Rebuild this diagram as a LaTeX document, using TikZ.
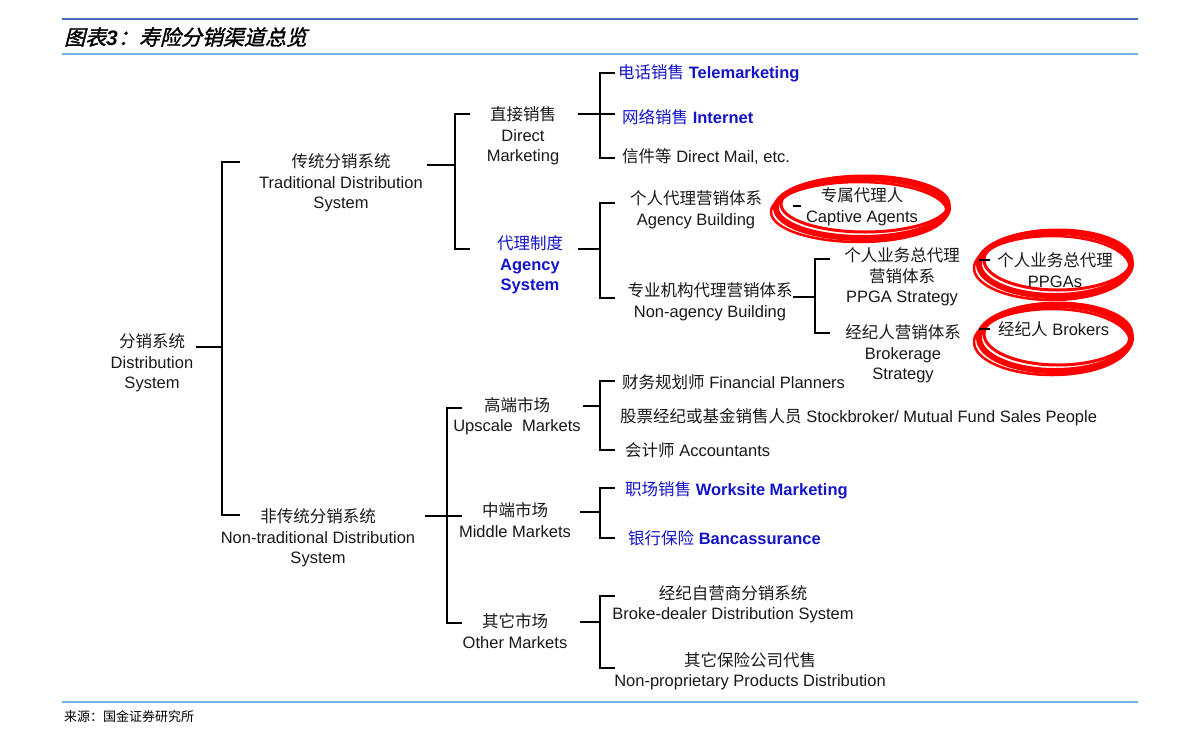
\documentclass[tikz,border=0pt]{standalone}
\usepackage{fontspec}
\setmainfont{Liberation Sans}
\newfontfamily\cjk{Noto Sans CJK SC}
\newfontfamily\cjkit[FakeSlant=0.25,FakeBold=1.5]{Noto Sans CJK SC}
\definecolor{lblue}{RGB}{20,20,200}
\definecolor{rule1}{RGB}{70,110,190}
\definecolor{rule2}{RGB}{110,180,230}
\begin{document}
\begin{tikzpicture}[x=1pt,y=-1pt,
  br/.style={line width=2.2pt,line cap=butt},
  t/.style={align=center,font=\fontsize{16.5}{20.5}\selectfont,inner sep=0pt,text=black!90},
  tl/.style={t,anchor=west},
  bl/.style={text=lblue},
  scrib/.style={draw=red,line width=6pt}]
\useasboundingbox (0,0) rectangle (1191,745);
\fill[white] (0,0) rectangle (1191,745);
% red scribbles (behind text)
\foreach \cx/\cy/\rx/\ry in {862/208/86/30, 1055/264/76/32, 1055/338/76/33}{
  \draw[scrib] (\cx,\cy) ellipse ({\rx} and {\ry});
  \draw[scrib,line width=3pt] (\cx+3,\cy-4) ellipse ({\rx-2} and {\ry-2});
  \draw[scrib,line width=2.5pt] (\cx-3,\cy+4) ellipse ({\rx+2} and {\ry});
}
\draw[rule1,line width=1.6pt] (62,19) -- (1138,19);
\draw[rule2,line width=1.2pt] (62,54) -- (1138,54);
\draw[rule2,line width=1.2pt] (62,702) -- (1138,702);
\node[anchor=west,inner sep=0pt,font=\fontsize{21}{24}\selectfont] (title) at (64,37) {{\cjkit 图表}{\bfseries\itshape 3}{\cjkit ：寿险分销渠道总览}};
\node[anchor=west,inner sep=0pt,font=\fontsize{13}{15}\selectfont] (src) at (64,717) {{\cjk 来源：国金证券研究所}};

% nodes
\node[t] (root) at (152,363) {{\cjk 分销系统}\\Distribution\\System};
\node[t] (trad) at (341,183) {{\cjk 传统分销系统}\\Traditional Distribution\\System};
\node[t] (dm) at (523,136) {{\cjk 直接销售}\\Direct\\Marketing};
\node[t,bl] (ag) at (530,265) {{\cjk 代理制度}\\\bfseries Agency\\\bfseries System};
\node[tl,bl] (tele) at (618,73) {{\cjk 电话销售} \bfseries Telemarketing};
\node[tl,bl] (inet) at (622,117) {{\cjk 网络销售} \bfseries Internet};
\node[tl] (mail) at (622,157) {{\cjk 信件等} Direct Mail, etc.};
\node[t] (agb) at (696,210) {{\cjk 个人代理营销体系}\\Agency Building};
\node[t] (nab) at (710,302) {{\cjk 专业机构代理营销体系}\\Non-agency Building};
\node[t] (cap) at (862,207) {{\cjk 专属代理人}\\Captive Agents};
\node[t] (ppga) at (902,277) {{\cjk 个人业务总代理}\\{\cjk 营销体系}\\PPGA Strategy};
\node[t] (brk) at (903,354) {{\cjk 经纪人营销体系}\\Brokerage\\Strategy};
\node[t] (ppgas) at (1055,270) {{\cjk 个人业务总代理}\\PPGAs};
\node[tl] (brks) at (998,329) {{\cjk 经纪人} Brokers};
\node[t] (nont) at (318,538) {{\cjk 非传统分销系统}\\Non-traditional Distribution\\System};
\node[t] (up) at (517,416) {{\cjk 高端市场}\\Upscale~ Markets};
\node[t] (mid) at (515,520) {{\cjk 中端市场}\\Middle Markets};
\node[t] (oth) at (515,631) {{\cjk 其它市场}\\Other Markets};
\node[tl] (fp) at (622,382) {{\cjk 财务规划师} Financial Planners};
\node[tl] (sb) at (620,417) {{\cjk 股票经纪或基金销售人员} Stockbroker/ Mutual Fund Sales People};
\node[tl] (acc) at (625,450) {{\cjk 会计师} Accountants};
\node[tl,bl] (ws) at (625,490) {{\cjk 职场销售} \bfseries Worksite Marketing};
\node[tl,bl] (ba) at (628,538) {{\cjk 银行保险} \bfseries Bancassurance};
\node[t] (bd) at (733,604) {{\cjk 经纪自营商分销系统}\\Broke-dealer Distribution System};
\node[t] (np) at (750,671) {{\cjk 其它保险公司代售}\\Non-proprietary Products Distribution};

% brackets
\draw[br] (196,347) -- (222,347);
\draw[br] (240,162) -| (222,515) -- (240,515);
\draw[br] (427,165) -- (455,165);
\draw[br] (470,114) -| (455,249) -- (470,249);
\draw[br] (578,114) -- (615,114);
\draw[br] (615,73) -| (600,158) -- (615,158);
\draw[br] (578,249) -- (600,249);
\draw[br] (615,203) -| (600,298) -- (615,298);
\draw[br] (793,297) -- (815,297);
\draw[br] (830,259) -| (815,333) -- (830,333);
\draw[br] (793,206) -- (801,206);
\draw[br] (979,260) -- (990,260);
\draw[br] (979,329) -- (990,329);
\draw[br] (425,516) -- (462,516);
\draw[br] (462,408) -| (447,623) -- (462,623);
\draw[br] (583,406) -- (600,406);
\draw[br] (615,381) -| (600,450) -- (615,450);
\draw[br] (580,512) -- (600,512);
\draw[br] (615,488) -| (600,538) -- (615,538);
\draw[br] (580,622) -- (600,622);
\draw[br] (615,596) -| (600,668) -- (615,668);
\end{tikzpicture}
\end{document}
